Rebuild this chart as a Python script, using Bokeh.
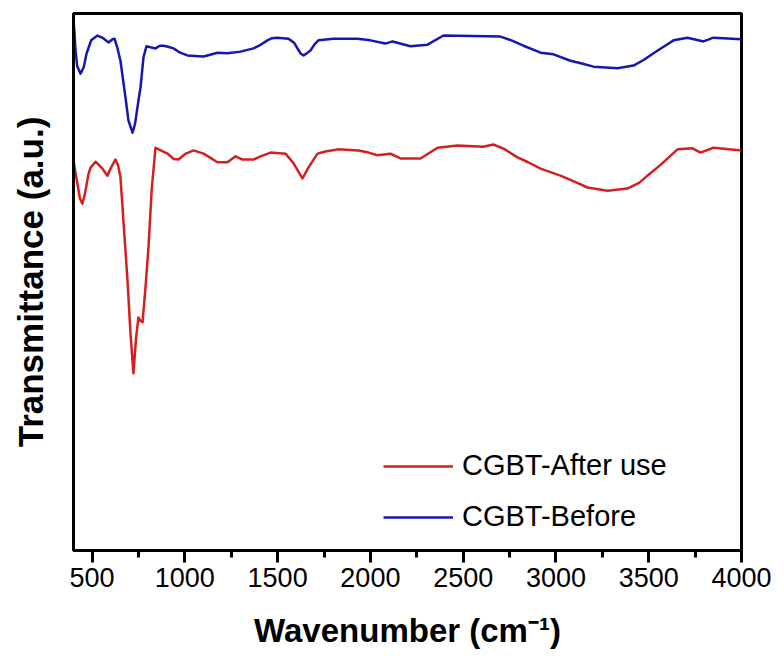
from bokeh.plotting import figure
from bokeh.models import Range1d, FixedTicker, Legend, LegendItem
from bokeh.embed import file_html
from bokeh.resources import INLINE

# FTIR spectra (wavenumber in cm^-1, transmittance in arbitrary units)
wn_after = [400, 415, 435, 448, 462, 480, 492, 519, 556, 583, 605, 626, 640, 653, 691, 707,
            723, 737, 750, 760, 772, 788, 804, 822, 842, 870, 907, 940, 966, 1000,
            1047, 1101, 1176, 1230, 1273, 1311, 1370, 1408, 1462, 1543, 1586, 1634, 1666,
            1715, 1758, 1823, 1936, 1990, 2038, 2108, 2162, 2270, 2362, 2469, 2609, 2663,
            2720, 2793, 2850, 2917, 3024, 3100, 3170, 3278, 3385, 3450, 3493, 3570, 3655,
            3736, 3779, 3849, 4000]
t_after = [72.6, 69.5, 65.5, 64.6, 66.5, 70.0, 71.3, 72.4, 71.1, 69.8, 71.5, 72.8, 71.8, 69.5, 50.3, 40.5,
           33.0, 39.5, 43.4, 42.8, 42.5, 49.0, 56.4, 67.5, 75.0, 74.5, 73.9, 72.9, 72.8, 73.8,
           74.5, 73.9, 72.3, 72.3, 73.4, 72.8, 72.8, 73.4, 74.1, 73.9, 72.1, 69.3, 71.3,
           73.9, 74.3, 74.7, 74.5, 74.1, 73.6, 73.9, 73.0, 73.0, 75.0, 75.4, 75.2, 75.6,
           74.8, 73.2, 72.3, 71.1, 69.8, 68.7, 67.6, 67.0, 67.4, 68.5, 69.8, 72.0, 74.7,
           74.9, 74.1, 75.0, 74.5]

wn_before = [400, 405, 411, 420, 438, 455, 470, 495, 529, 560, 589, 610, 621, 635, 653, 680,
             696, 718, 732, 750, 761, 777, 793, 815, 842, 865, 885, 910, 939, 975,
             1014, 1101, 1176, 1230, 1300, 1370, 1400, 1445, 1470, 1499, 1559, 1590, 1607,
             1625, 1640, 1658, 1677, 1700, 1720, 1801, 1930, 2000, 2081, 2119, 2216, 2308,
             2394, 2701, 2760, 2825, 2917, 2987, 3078, 3140, 3202, 3332, 3418, 3470, 3526,
             3580, 3634, 3709, 3795, 3849, 4000]
t_before = [98.8, 96.5, 93.1, 90.2, 88.8, 90.0, 92.5, 95.0, 95.9, 95.4, 94.6, 95.2, 95.3, 93.8, 91.2, 84.4,
            80.1, 77.8, 79.5, 83.8, 86.2, 91.8, 93.9, 93.7, 93.5, 94.0, 94.0, 93.8, 93.5, 92.7,
            92.2, 92.0, 92.7, 92.6, 92.9, 93.5, 94.0, 95.0, 95.4, 95.5, 95.3, 94.5, 93.5,
            92.5, 92.2, 92.6, 93.1, 94.3, 95.0, 95.3, 95.3, 95.0, 94.4, 94.8, 93.9, 94.2,
            95.9, 95.7, 95.0, 94.0, 92.7, 92.4, 91.2, 90.7, 90.1, 89.8, 90.3, 91.3, 92.6,
            93.8, 95.0, 95.5, 94.8, 95.5, 95.2]

major_ticks = [500, 1000, 1500, 2000, 2500, 3000, 3500, 4000]
minor_ticks = [750, 1250, 1750, 2250, 2750, 3250, 3750]

label_after = "CGBT-After use"
label_before = "CGBT-Before"

FONT = "Liberation Sans"

p = figure(width=784, height=666, output_backend="svg", toolbar_location=None,
           x_range=Range1d(400, 4000), y_range=Range1d(0, 100),
           min_border_left=73, min_border_right=43, min_border_top=13, min_border_bottom=116)
p.grid.visible = False
p.outline_line_color = "black"
p.outline_line_width = 3
p.background_fill_color = "white"
p.border_fill_color = "white"

r_after = p.line(wn_after, t_after, line_color="#d41f1f", line_width=2.5, line_join="round")
r_before = p.line(wn_before, t_before, line_color="#1616b0", line_width=2.5, line_join="round")

xa = p.xaxis[0]
xa.ticker = FixedTicker(ticks=major_ticks, minor_ticks=minor_ticks)
xa.axis_line_width = 3
xa.major_tick_line_width = 3
xa.minor_tick_line_width = 3
xa.major_tick_in = 0
xa.major_tick_out = 12
xa.minor_tick_in = 0
xa.minor_tick_out = 7
xa.major_label_text_font = FONT
xa.major_label_text_font_size = "27px"
xa.major_label_text_color = "black"
xa.major_label_standoff = 5
xa.axis_label = "Wavenumber (cm\u207b\u00b9)"
xa.axis_label_text_font = FONT
xa.axis_label_text_font_size = "33px"
xa.axis_label_text_font_style = "bold"
xa.axis_label_text_color = "black"
xa.axis_label_standoff = 22

ya = p.yaxis[0]
ya.ticker = FixedTicker(ticks=[])
ya.axis_line_width = 3
ya.major_tick_line_color = None
ya.minor_tick_line_color = None
ya.axis_label = "Transmittance (a.u.)"
ya.axis_label_text_font = FONT
ya.axis_label_text_font_size = "35px"
ya.axis_label_text_font_style = "bold"
ya.axis_label_text_color = "black"
ya.axis_label_standoff = 24

legend = Legend(items=[LegendItem(label=label_after, renderers=[r_after]),
                       LegendItem(label=label_before, renderers=[r_before])],
                location=(310, 17), border_line_color=None, background_fill_alpha=0,
                padding=0, margin=0, spacing=18, glyph_width=70, glyph_height=30,
                label_height=30, label_standoff=9, label_text_font=FONT,
                label_text_font_size="29px", label_text_color="black")
p.add_layout(legend)

open("out.html", "w").write(file_html(p, INLINE))
